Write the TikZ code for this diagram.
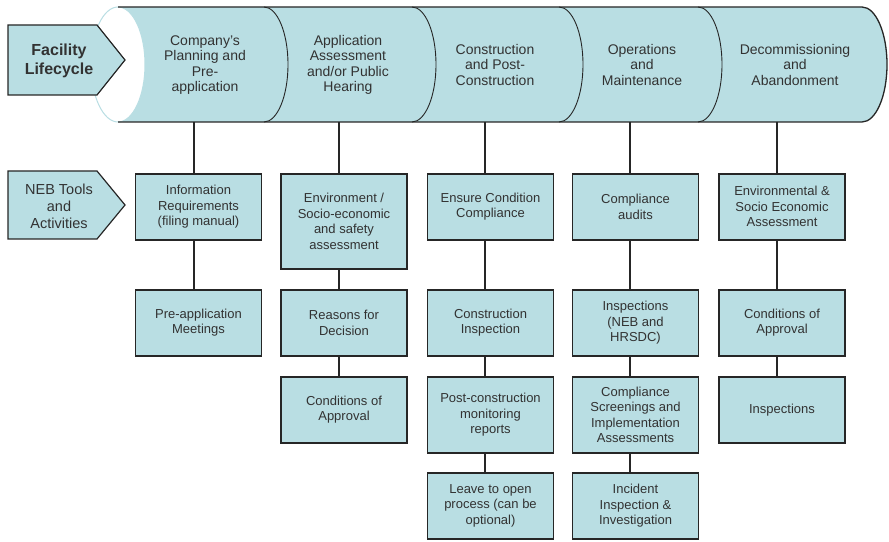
\documentclass[tikz,border=0pt]{standalone}
\usepackage{fontspec}
\setmainfont{Liberation Sans}
\definecolor{bx}{RGB}{185,222,227}
\definecolor{ln}{RGB}{38,38,38}
\definecolor{tx}{RGB}{50,50,50}

\begin{document}
\begin{tikzpicture}[x=1pt,y=1pt,
  box/.style={draw=ln,fill=bx,line width=1.6pt,minimum width=126pt,minimum height=66pt,inner sep=0pt,align=center,anchor=north,text=tx,font=\fontsize{13}{15.5}\selectfont},
  seg/.style={align=center,text=tx,font=\fontsize{14}{15.5}\selectfont},
  link/.style={draw=ln,line width=1.8pt},
  tag/.style={draw=ln,fill=bx,line width=1.2pt}]
\useasboundingbox (0,0) rectangle (889,541);
\fill[bx] (118,534) -- (862,534) arc[start angle=90,end angle=-90,x radius=25pt,y radius=57.5pt] -- (118,419) -- cycle;
\draw[draw=bx,fill=white,line width=1pt] (118,476.5) ellipse [x radius=27pt,y radius=57.5pt];
\foreach \x in {264,412,559,698} \draw[ln,line width=.9pt] (\x,534) arc[start angle=90,end angle=-90,x radius=24pt,y radius=57.5pt];
\draw[ln,line width=1.3pt] (118,534) -- (862,534) arc[start angle=90,end angle=-90,x radius=25pt,y radius=57.5pt] -- (118,419);
\node[seg] (s1) at (205,476) {Company's\\Planning and\\Pre-\\application};
\node[seg] (s2) at (348,476) {Application\\Assessment\\and/or Public\\Hearing};
\node[seg] (s3) at (495,476) {Construction\\and Post-\\Construction};
\node[seg] (s4) at (642,476) {Operations\\and\\Maintenance};
\node[seg] (s5) at (795,476) {Decommissioning\\and\\Abandonment};
\draw[tag] (8,516) -- (97,516) -- (125,481) -- (97,446) -- (8,446) -- cycle;
\node[text=tx,align=center,font=\fontsize{16}{19}\selectfont\bfseries] (fac) at (59,480) {Facility\\Lifecycle};
\draw[tag] (8,370) -- (97,370) -- (125,336) -- (97,302) -- (8,302) -- cycle;
\node[text=tx,align=center,font=\fontsize{14.5}{17}\selectfont] (neb) at (59,335) {NEB Tools\\and\\Activities};
\coordinate (k1) at (194,419);\coordinate (k2) at (339,419);\coordinate (k3) at (485,419);\coordinate (k4) at (630,419);\coordinate (k5) at (777,419);
\node[box] (i1) at (198.5,368) {Information\\Requirements\\(filing manual)};
\node[box] (i2) at (198.5,252) {Pre-application\\Meetings};
\node[box,minimum height=95pt] (a1) at (344,368) {Environment /\\Socio-economic\\and safety\\assessment};
\node[box] (a2) at (344,252) {Reasons for\\Decision};
\node[box] (a3) at (344,165) {Conditions of\\Approval};
\node[box] (c1) at (490.5,368) {Ensure Condition\\Compliance};
\node[box] (c2) at (490.5,252) {Construction\\Inspection};
\node[box,minimum height=76pt] (c3) at (490.5,165) {Post-construction\\monitoring\\reports};
\node[box] (c4) at (490.5,69) {Leave to open\\process (can be\\optional)};
\node[box] (o1) at (635.5,368) {Compliance\\audits};
\node[box] (o2) at (635.5,252) {Inspections\\(NEB and\\HRSDC)};
\node[box,minimum height=76pt] (o3) at (635.5,165) {Compliance\\Screenings and\\Implementation\\Assessments};
\node[box] (o4) at (635.5,69) {Incident\\Inspection \&\\Investigation};
\node[box] (d1) at (782,368) {Environmental \&\\Socio Economic\\Assessment};
\node[box] (d2) at (782,252) {Conditions of\\Approval};
\node[box] (d3) at (782,165) {Inspections};
\foreach \k/\b in {k1/i1,k2/a1,k3/c1,k4/o1,k5/d1} \draw[link] (\k) -- (\k |- \b.north);
\foreach \a/\b/\k in {i1/i2/k1,a1/a2/k2,a2/a3/k2,c1/c2/k3,c2/c3/k3,c3/c4/k3,o1/o2/k4,o2/o3/k4,o3/o4/k4,d1/d2/k5,d2/d3/k5} \draw[link] (\a.south -| \k) -- (\b.north -| \k);
\end{tikzpicture}
\end{document}
